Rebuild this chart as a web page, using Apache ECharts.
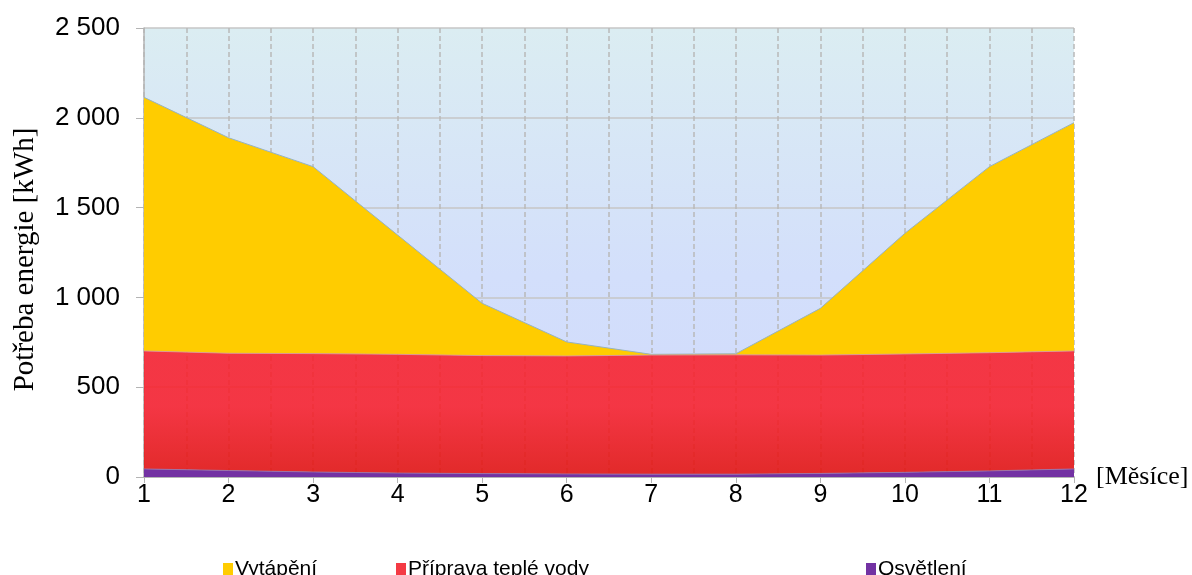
<!DOCTYPE html>
<html>
<head>
<meta charset="utf-8">
<script src="https://cdn.jsdelivr.net/npm/echarts@6/dist/echarts.min.js"></script>
<style>
html,body{margin:0;padding:0;background:#fff;}
#chart{width:1192px;height:575px;}
</style>
</head>
<body>
<div id="chart"></div>
<script>
const months = ['1','2','3','4','5','6','7','8','9','10','11','12'];
const osvetleni = [45, 36, 28, 22, 19, 17, 16, 16, 20, 26, 34, 45];
const pripravaVody = [657, 653, 659, 661, 657, 657, 663, 664, 659, 659, 658, 657];
const vytapeni = [1412, 1200, 1041, 664, 291, 78, 4, 6, 260, 672, 1036, 1271];
const seriesNames = ['Vytápění', 'Příprava teplé vody', 'Osvětlení'];
const yTicks = [0, 500, 1000, 1500, 2000, 2500];

const fmt = v => String(v).replace(/\B(?=(\d{3})+(?!\d))/g, ' ');

const chart = echarts.init(document.getElementById('chart'), null, {renderer: 'canvas'});
const sans = '"Liberation Sans", Arial, sans-serif';
const serif = '"Liberation Serif", "Times New Roman", serif';

const legendBase = {
  orient: 'horizontal', top: 554, itemWidth: 10, itemHeight: 13, itemGap: 0,
  icon: 'rect', textStyle: {fontFamily: sans, fontSize: 21, color: '#000', padding: [0,0,0,-3]},
  selectedMode: false
};
const dash = {color: '#b9b9b9', width: 1.5, type: [5, 3]};

chart.setOption({
  animation: false,
  backgroundColor: '#fff',
  grid: {
    left: 144, right: 118, top: 28, bottom: 98, show: true,
    borderWidth: 0,
    backgroundColor: {
      type: 'linear', x: 0, y: 0, x2: 0, y2: 1,
      colorStops: [
        {offset: 0, color: '#dbedf2'},
        {offset: 0.55, color: '#d3dffb'},
        {offset: 1, color: '#d0dafc'}
      ]
    }
  },
  legend: [
    Object.assign({}, legendBase, {left: 218, data: [seriesNames[0]]}),
    Object.assign({}, legendBase, {left: 391, data: [seriesNames[1]]}),
    Object.assign({}, legendBase, {left: 861, data: [seriesNames[2]]})
  ],
  xAxis: [
    {
      type: 'category', data: months, boundaryGap: false,
      name: '[Měsíce]', nameLocation: 'end', nameGap: 22,
      nameTextStyle: {fontFamily: serif, fontSize: 26, color: '#000', verticalAlign: 'middle'},
      axisLine: {show: true, lineStyle: {color: '#b4b4b4', width: 1}},
      axisTick: {show: true, length: 6, lineStyle: {color: '#b4b4b4'}},
      axisLabel: {fontFamily: sans, fontSize: 25, color: '#000', margin: 6},
      splitLine: {show: false}
    },
    {
      type: 'value', min: 1, max: 12, interval: 0.5, show: true,
      axisLine: {show: false}, axisTick: {show: false}, axisLabel: {show: false},
      splitLine: {show: true, lineStyle: dash}
    }
  ],
  yAxis: {
    type: 'value', min: yTicks[0], max: yTicks[yTicks.length - 1], interval: yTicks[1] - yTicks[0],
    name: 'Potřeba energie [kWh]', nameLocation: 'middle', nameGap: 104, nameRotate: 90,
    nameTextStyle: {fontFamily: serif, fontSize: 29, color: '#000', padding: [0, 14, 0, 0]},
    axisLine: {show: true, lineStyle: {color: '#b4b4b4', width: 1.5}},
    axisTick: {show: true, length: 8, lineStyle: {color: '#b4b4b4'}},
    axisLabel: {fontFamily: sans, fontSize: 26, color: '#000', margin: 24, formatter: fmt},
    splitLine: {show: true, lineStyle: {color: '#c6c6c6', width: 1.5}}
  },
  series: [
    {
      name: seriesNames[2], type: 'line', stack: 'e', data: osvetleni,
      symbol: 'none', z: 4,
      itemStyle: {color: '#7332a3'},
      lineStyle: {width: 0.8, color: '#9a7aa8'},
      areaStyle: {color: '#7332a3', opacity: 1}
    },
    {
      name: seriesNames[1], type: 'line', stack: 'e', data: pripravaVody,
      symbol: 'none', z: 3,
      itemStyle: {color: '#f43a44'},
      lineStyle: {width: 0.8, color: '#d8a0a0'},
      areaStyle: {
        opacity: 0.85,
        color: {
          type: 'linear', x: 0, y: 0, x2: 0, y2: 1,
          colorStops: [
            {offset: 0, color: '#fa1924'},
            {offset: 0.45, color: '#fa1924'},
            {offset: 1, color: '#e50b05'}
          ]
        }
      }
    },
    {
      name: seriesNames[0], type: 'line', stack: 'e', data: vytapeni,
      symbol: 'none', z: 2,
      itemStyle: {color: '#ffcc00'},
      lineStyle: {width: 1, color: '#97b3bf'},
      areaStyle: {color: '#ffcc00', opacity: 1}
    }
  ]
});
</script>
</body>
</html>
